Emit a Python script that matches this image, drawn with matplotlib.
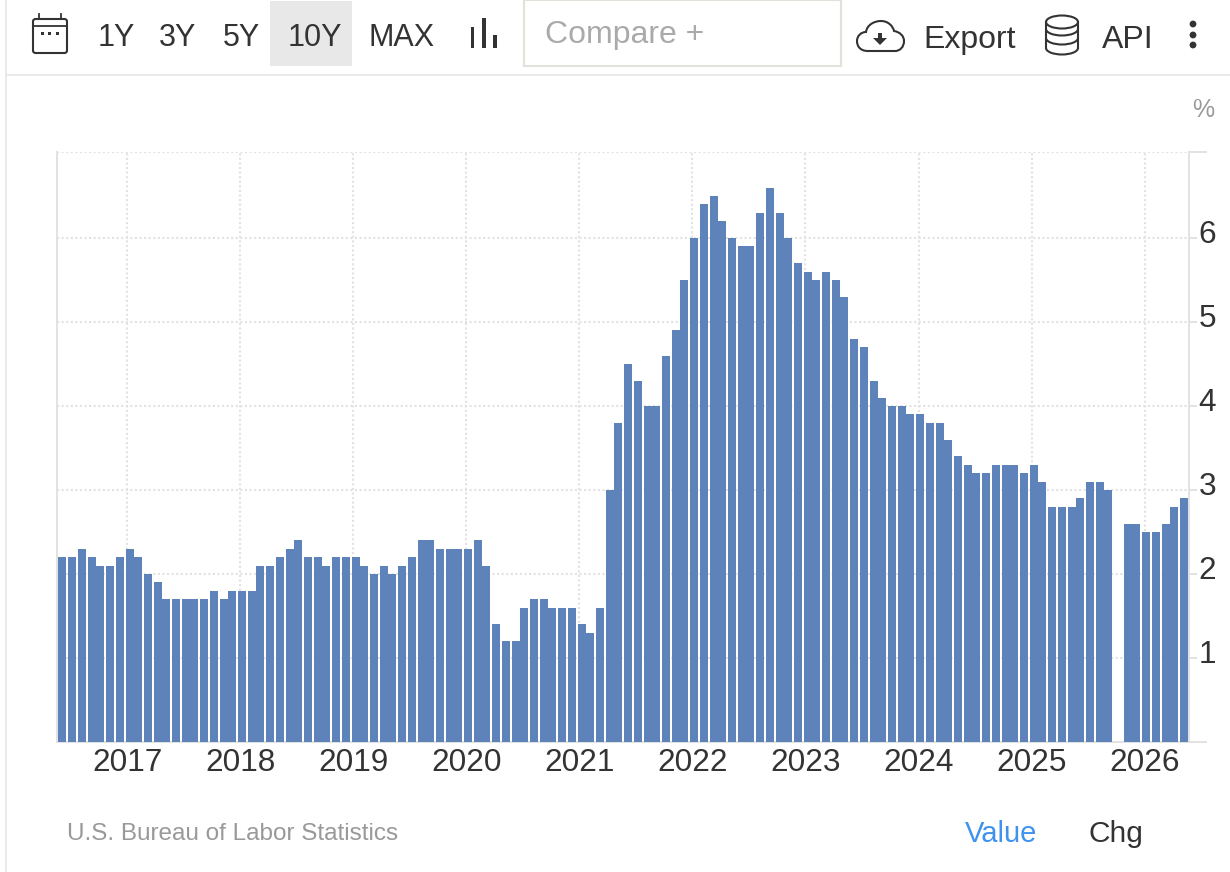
#!/usr/bin/env python
# core inflation style bar chart with a web toolbar on top
import numpy as np
import matplotlib
matplotlib.use('Agg')
import matplotlib.pyplot as plt
from matplotlib.patches import Rectangle, FancyBboxPatch, Ellipse, Arc, PathPatch, Polygon, Circle
from matplotlib.path import Path

plt.rcParams['font.family'] = ['Liberation Sans', 'DejaVu Sans']

# monthly values, Jun 2016 .. May 2026 (Oct 2025 has no reading)
values_2016 = [2.2, 2.2, 2.3, 2.2, 2.1, 2.1, 2.2]
values_2017 = [2.3, 2.2, 2.0, 1.9, 1.7, 1.7, 1.7, 1.7, 1.7, 1.8, 1.7, 1.8]
values_2018 = [1.8, 1.8, 2.1, 2.1, 2.2, 2.3, 2.4, 2.2, 2.2, 2.1, 2.2, 2.2]
values_2019 = [2.2, 2.1, 2.0, 2.1, 2.0, 2.1, 2.2, 2.4, 2.4, 2.3, 2.3, 2.3]
values_2020 = [2.3, 2.4, 2.1, 1.4, 1.2, 1.2, 1.6, 1.7, 1.7, 1.6, 1.6, 1.6]
values_2021 = [1.4, 1.3, 1.6, 3.0, 3.8, 4.5, 4.3, 4.0, 4.0, 4.6, 4.9, 5.5]
values_2022 = [6.0, 6.4, 6.5, 6.2, 6.0, 5.9, 5.9, 6.3, 6.6, 6.3, 6.0, 5.7]
values_2023 = [5.6, 5.5, 5.6, 5.5, 5.3, 4.8, 4.7, 4.3, 4.1, 4.0, 4.0, 3.9]
values_2024 = [3.9, 3.8, 3.8, 3.6, 3.4, 3.3, 3.2, 3.2, 3.3, 3.3, 3.3, 3.2]
values_2025 = [3.3, 3.1, 2.8, 2.8, 2.8, 2.9, 3.1, 3.1, 3.0, np.nan, 2.6, 2.6]
values_2026 = [2.5, 2.5, 2.6, 2.8, 2.9]
values = (values_2016 + values_2017 + values_2018 + values_2019 + values_2020 + values_2021
          + values_2022 + values_2023 + values_2024 + values_2025 + values_2026)

year_labels = ['2017', '2018', '2019', '2020', '2021', '2022', '2023', '2024', '2025', '2026']
year_months = [7, 19, 31, 43, 55, 67, 79, 91, 103, 115]
y_labels = [1, 2, 3, 4, 5, 6]

W, H = 1230, 872
GREY = '#e2e2e2'
DARK = '#333333'

fig = plt.figure(figsize=(W / 100, H / 100), dpi=100, facecolor='white')

# plot area in pixels
left, right, top, bottom = 57, 1189, 152, 742
px_month = 9.42
first_bar = 58.1
ax = fig.add_axes([left / W, 1 - bottom / H, (right - left) / W, (bottom - top) / H])

# the site rounds bar edges to even pixels, do the same so the gaps fall alike
ind = np.arange(len(values))
snapped = np.ceil((first_bar + ind * px_month) / 2) * 2
snapped[0] -= 2  # first bar sits right on the axis
bar_x = (snapped - first_bar) / px_month
ax.bar(bar_x, values, 8 / px_month, align='edge', color='#5a81b9', alpha=0.98, zorder=3, linewidth=0)

ax.set_xlim((left - first_bar) / px_month, (right - first_bar) / px_month)
ax.set_ylim(0, (bottom - top) / 84)

grid_style = dict(color=GREY, linewidth=1.5, linestyle=(0, (1, 1.2)))
ax.set_xticks([m + 0.34 for m in year_months])
ax.set_xticklabels(year_labels, fontsize=22.7, color=DARK)
ax.tick_params(axis='x', length=0, pad=4.6)
ax.xaxis.grid(True, **grid_style)
ax.yaxis.grid(True, **grid_style)
ax.set_axisbelow(True)

ax.yaxis.tick_right()
ax.set_yticks([0] + y_labels + [ax.get_ylim()[1]])
ax.set_yticklabels([])
ax.tick_params(axis='y', length=13, width=1.4, color=GREY)
for v in y_labels:
    ax.text(1.0085, v + 0.035, str(v), transform=ax.get_yaxis_transform(), fontsize=22.7, color=DARK,
            va='center', ha='left', clip_on=False, zorder=5,
            bbox=dict(facecolor='white', edgecolor='none', pad=1))

for side in ('left', 'right', 'bottom'):
    ax.spines[side].set_color(GREY)
    ax.spines[side].set_linewidth(1.4)
ax.spines['top'].set_visible(False)

# page chrome, drawn in pixel coordinates
ui = fig.add_axes([0, 0, 1, 1], zorder=10)
ui.set_xlim(0, W)
ui.set_ylim(H, 0)
ui.axis('off')
ui.patch.set_alpha(0)

ui.plot([6, 6], [0, H], color='#e6e6ea', lw=1.2)
ui.plot([6, W], [75, 75], color='#e6e6ea', lw=1.2)

# calendar icon
ui.add_patch(FancyBboxPatch((33, 19), 34, 34, boxstyle='round,pad=0,rounding_size=2.5', fc='none', ec=DARK, lw=1.5))
ui.plot([33, 67], [26, 26], color=DARK, lw=1.3)
for ex in (39, 61):
    ui.plot([ex, ex], [14, 19], color=DARK, lw=1.3)
for dx in (42, 49, 57):
    ui.add_patch(Rectangle((dx - 1.5, 32.5), 3, 3, fc=DARK, ec='none'))

# range buttons
ui.add_patch(Rectangle((270, 1), 82, 65, fc='#e8e8e8', ec='none'))
for label, cx in zip(['1Y', '3Y', '5Y', '10Y', 'MAX'], [116, 178, 241.5, 315, 401.5]):
    ui.text(cx, 38, label, fontsize=22, color=DARK, ha='center', va='center')

# bar type icon
ui.add_patch(Rectangle((470.5, 27), 3.5, 21, fc=DARK, ec='none'))
ui.add_patch(Rectangle((482, 18), 3.5, 30, fc=DARK, ec='none'))
ui.add_patch(Rectangle((493, 35), 3.5, 13, fc=DARK, ec='none'))

# compare box
ui.add_patch(Rectangle((524, 0), 317, 66, fc='white', ec='#e2e2da', lw=1.5))
ui.text(545, 35, 'Compare +', fontsize=23, color='#aaaaaa', ha='left', va='center')

# cloud icon
cloud = [(868, 51), (860, 51), (857, 46), (857, 41), (857, 36), (861, 32), (866, 32),
         (867, 25), (874, 21), (881, 21), (888, 21), (893, 26), (894, 31),
         (900, 32), (904, 36), (904, 41), (904, 47), (900, 51), (895, 51), (868, 51)]
codes = [Path.MOVETO] + [Path.CURVE4] * 18 + [Path.LINETO]
ui.add_patch(PathPatch(Path(cloud, codes), fc='none', ec=DARK, lw=1.5))
ui.add_patch(Rectangle((878, 33), 4, 6, fc=DARK, ec='none'))
ui.add_patch(Polygon([(873, 38), (887, 38), (880, 45)], fc=DARK, ec='none'))
ui.text(923, 40, 'Export', fontsize=23, color=DARK, ha='left', va='center')

# database icon
ui.add_patch(Ellipse((1062, 22), 32, 13, fc='none', ec=DARK, lw=1.5))
ui.plot([1046, 1046], [22, 48], color=DARK, lw=1.5)
ui.plot([1078, 1078], [22, 48], color=DARK, lw=1.5)
for ay in (29, 38, 48):
    ui.add_patch(Arc((1062, ay), 32, 13, theta1=0, theta2=180, ec=DARK, lw=1.5))
ui.text(1102, 40, 'API', fontsize=23, color=DARK, ha='left', va='center')

# menu dots
for dy in (24, 35, 45):
    ui.add_patch(Circle((1193, dy), 3.4, fc=DARK, ec='none'))

ui.text(1203, 110, '%', fontsize=18, color='#999999', ha='center', va='center')
ui.text(67, 834, 'U.S. Bureau of Labor Statistics', fontsize=17.5, color='#999999', ha='left', va='center')
ui.text(965, 834, 'Value', fontsize=21, color='#3f93ee', ha='left', va='center')
ui.text(1089, 834, 'Chg', fontsize=21.5, color=DARK, ha='left', va='center')

fig.savefig('out.png', dpi=100)
